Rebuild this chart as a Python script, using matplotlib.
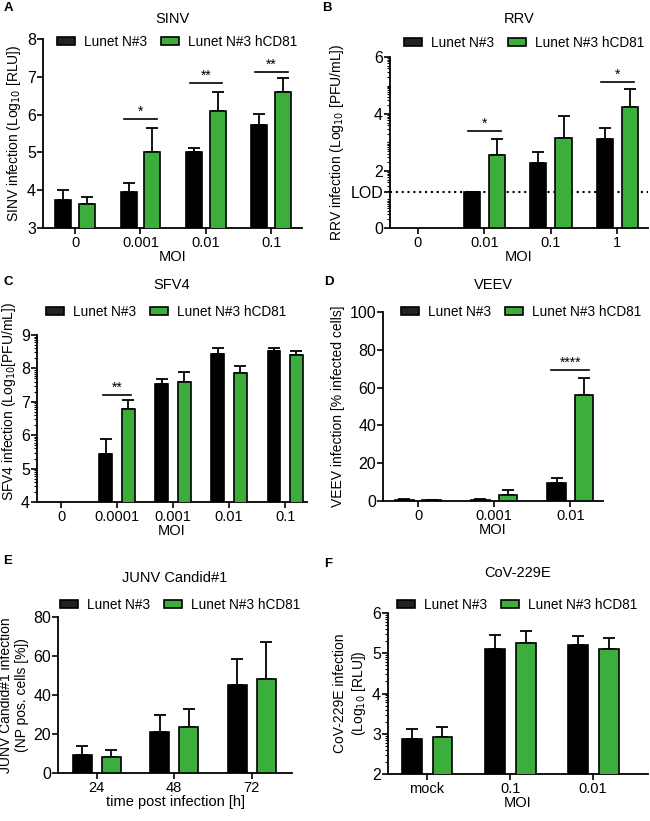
import numpy as np
import matplotlib
matplotlib.use("Agg")
import matplotlib.pyplot as plt
from matplotlib.patches import Patch

plt.rcParams['font.family'] = ['Liberation Sans', 'DejaVu Sans']

W, H = 650, 821
BLACK = '#000000'
GREEN = '#3cae3c'
LEG_LABELS = ['Lunet N#3', 'Lunet N#3 hCD81']

# ---- data ----
sinv_cats = ['0', '0.001', '0.01', '0.1']
sinv_black = [3.73, 3.94, 5.00, 5.72]
sinv_black_err = [0.28, 0.25, 0.12, 0.30]
sinv_green = [3.64, 5.00, 6.10, 6.61]
sinv_green_err = [0.17, 0.65, 0.50, 0.35]
sinv_sig = [(1, 5.89, '*'), (2, 6.84, '**'), (3, 7.14, '**')]

rrv_cats = ['0', '0.01', '0.1', '1']
rrv_black = [np.nan, 1.28, 2.27, 3.11]
rrv_black_err = [0, 0, 0.38, 0.39]
rrv_green = [np.nan, 2.56, 3.15, 4.23]
rrv_green_err = [0, 0.55, 0.78, 0.63]
rrv_sig = [(1, 3.41, '*'), (3, 5.12, '*')]
rrv_lod = 1.28

sfv_cats = ['0', '0.0001', '0.001', '0.01', '0.1']
sfv_black = [np.nan, 5.44, 7.53, 8.42, 8.52]
sfv_black_err = [0, 0.45, 0.16, 0.20, 0.10]
sfv_green = [np.nan, 6.79, 7.58, 7.87, 8.40]
sfv_green_err = [0, 0.25, 0.30, 0.21, 0.12]
sfv_sig = [(1, 7.20, '**')]

veev_cats = ['0', '0.001', '0.01']
veev_black = [0.6, 0.5, 9.3]
veev_black_err = [0.3, 0.5, 3.0]
veev_green = [0.4, 3.2, 56.0]
veev_green_err = [0.3, 2.6, 9.0]
veev_sig = [(2, 69.5, '****')]

junv_cats = ['24', '48', '72']
junv_black = [9.4, 21.0, 45.0]
junv_black_err = [4.6, 9.0, 13.5]
junv_green = [8.0, 23.8, 48.0]
junv_green_err = [4.0, 9.2, 19.2]

cov_cats = ['mock', '0.1', '0.01']
cov_black = [2.86, 5.11, 5.21]
cov_black_err = [0.25, 0.34, 0.22]
cov_green = [2.91, 5.25, 5.11]
cov_green_err = [0.25, 0.31, 0.26]


def px_rect(x0, y0, x1, y1):
    return [x0 / W, 1 - y1 / H, (x1 - x0) / W, (y1 - y0) / H]


fig = plt.figure(figsize=(6.5, 8.21), dpi=100)


def panel(box, cats, black, black_err, green, green_err, xlim, ylim, yticks,
          ylabel, title, title_y, letter, letter_xy, leg_xy, xlabel='MOI',
          sig=None, log_minor=False, off=0.18, width=0.245):
    ax = fig.add_axes(px_rect(*box))
    x = np.arange(len(cats))
    b = np.array(black, dtype=float)
    g = np.array(green, dtype=float)
    ax.bar(x - off, b, width, color=BLACK, edgecolor='black', lw=1.2, zorder=3)
    ax.bar(x + off, g, width, color=GREEN, edgecolor='black', lw=1.2, zorder=3)
    for xs, v, e in ((x - off, b, black_err), (x + off, g, green_err)):
        e = np.array(e, dtype=float)
        ax.errorbar(xs, v, yerr=[np.zeros_like(e), e], fmt='none',
                    ecolor='black', elinewidth=1.3, capsize=4, capthick=1.3,
                    zorder=2)
    ax.set_xlim(*xlim)
    ax.set_ylim(*ylim)
    ax.set_yticks(yticks)
    ax.set_xticks(x)
    ax.set_xticklabels(cats, fontsize=10.5)
    ax.tick_params(axis='y', labelsize=11.5, width=1.2, length=4, pad=1)
    ax.tick_params(axis='x', width=1.2, length=4, pad=2)
    if log_minor:
        minors = [d + np.log10(k) for d in range(int(ylim[0]), int(ylim[1]))
                  for k in range(1, 10)]
        ax.set_yticks(minors, minor=True)
        ax.tick_params(axis='y', which='minor', length=2, width=0.8)
    for s in ('top', 'right'):
        ax.spines[s].set_visible(False)
    for s in ('left', 'bottom'):
        ax.spines[s].set_linewidth(1.3)
    ax.set_ylabel(ylabel, fontsize=10, labelpad=3)
    ax.set_xlabel(xlabel, fontsize=10.5, labelpad=0)
    if sig:
        for xi, yv, txt in sig:
            ax.plot([xi - 0.25, xi + 0.25], [yv, yv], color='black', lw=1.2)
            ax.text(xi, yv, txt, ha='center', va='bottom', fontsize=10)
    cx = (box[0] + box[2]) / 2
    fig.text(cx / W, 1 - title_y / H, title, ha='center', va='center',
             fontsize=10.5)
    fig.text(letter_xy[0] / W, 1 - letter_xy[1] / H, letter, ha='left',
             va='center', fontsize=9.5, fontweight='bold')
    handles = [Patch(facecolor='#222222', edgecolor='black', lw=1.2),
               Patch(facecolor=GREEN, edgecolor='black', lw=1.2)]
    fig.legend(handles, LEG_LABELS, loc='center left',
               bbox_to_anchor=(leg_xy[0] / W, 1 - leg_xy[1] / H),
               ncol=2, frameon=False, fontsize=9.8, handlelength=1.35,
               handleheight=0.55, handletextpad=0.65, columnspacing=1.0,
               borderpad=0, borderaxespad=0)
    return ax


panel((43, 39, 302, 228), sinv_cats, sinv_black, sinv_black_err, sinv_green,
      sinv_green_err, (-0.49, 3.47), (3, 8), [3, 4, 5, 6, 7, 8],
      'SINV infection (Log$_{10}$ [RLU])', 'SINV', 19, 'A', (4, 8), (57, 42),
      sig=sinv_sig)

axb = panel((390, 57, 648, 228), rrv_cats, rrv_black, rrv_black_err, rrv_green,
            rrv_green_err, (-0.42, 3.46), (0, 6), [0, 2, 4, 6],
            'RRV infection (Log$_{10}$ [PFU/mL])', 'RRV', 19, 'B', (322, 8),
            (404, 43), sig=rrv_sig, log_minor=True, off=0.19)
axb.axhline(rrv_lod, color='black', ls=(0, (1.0, 1.8)), lw=1.5, zorder=1)
axb.set_yticks([0, rrv_lod, 2, 4, 6])
axb.set_yticklabels(['0', 'LOD', '2', '4', '6'])

axc = panel((37, 335, 307, 502), sfv_cats, sfv_black, sfv_black_err, sfv_green,
            sfv_green_err, (-0.43, 4.39), (4, 9), [4, 5, 6, 7, 8, 9],
            'SFV4 infection (Log$_{10}$[PFU/mL])', 'SFV4', 285, 'C', (3, 282),
            (46, 312), sig=sfv_sig, log_minor=True, off=0.2, width=0.23)
axc.yaxis.set_label_coords(-0.072, 0.6)

panel((383, 312, 603, 501), veev_cats, veev_black, veev_black_err, veev_green,
      veev_green_err, (-0.46, 2.43), (0, 100), [0, 20, 40, 60, 80, 100],
      'VEEV infection [% infected cells]', 'VEEV', 285, 'D', (324, 282),
      (401, 312), sig=veev_sig)

panel((58, 617, 292, 773), junv_cats, junv_black, junv_black_err, junv_green,
      junv_green_err, (-0.5, 2.52), (0, 80), [0, 20, 40, 60, 80],
      'JUNV Candid#1 infection\n(NP pos. cells [%])', 'JUNV Candid#1', 578,
      'E', (3, 561), (60, 605), xlabel='time post infection [h]', off=0.187)

panel((388, 613, 648, 774), cov_cats, cov_black, cov_black_err, cov_green,
      cov_green_err, (-0.47, 2.66), (2, 6), [2, 3, 4, 5, 6],
      'CoV-229E infection\n(Log$_{10}$ [RLU])', 'CoV-229E', 573, 'F',
      (324, 564), (397, 605), log_minor=True, off=0.186, width=0.24)

fig.savefig('out.png', dpi=100)
